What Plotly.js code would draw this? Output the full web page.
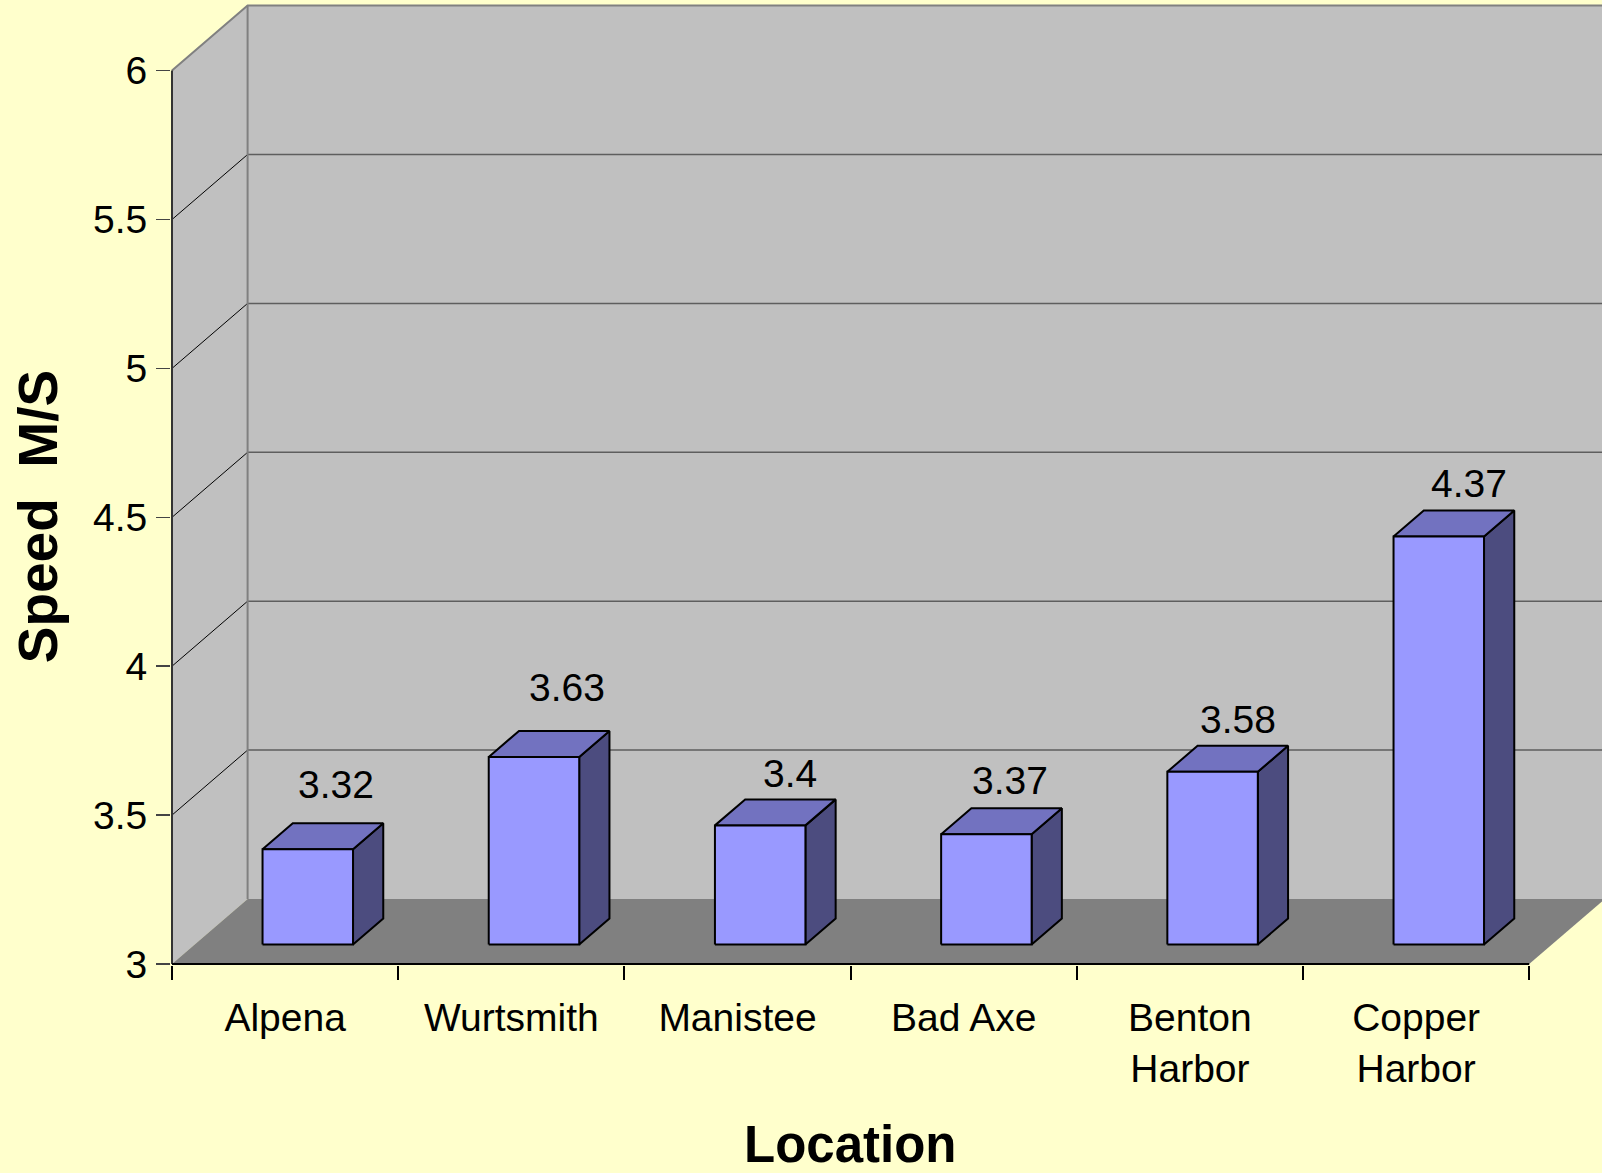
<!DOCTYPE html>
<html>
<head>
<meta charset="utf-8">
<script src="https://cdn.plot.ly/plotly-3.0.1.min.js"></script>
<style>
  html, body { margin: 0; padding: 0; background: #FFFFCC; }
  #chart { width: 1602px; height: 1173px; }
</style>
</head>
<body>
<div id="chart"></div>
<script>
// ---- data ----
const categories = ['Alpena', 'Wurtsmith', 'Manistee', 'Bad Axe', 'Benton<br>Harbor', 'Copper<br>Harbor'];
const speeds = [3.32, 3.63, 3.4, 3.37, 3.58, 4.37];
const yTickVals = [3, 3.5, 4, 4.5, 5, 5.5, 6];
const yTickText = ['3', '3.5', '4', '4.5', '5', '5.5', '6'];
const xTitle = 'Location';
const yTitle = 'Speed\u00a0 M/S';

// ---- geometry / style ----
const W = 1602, H = 1173;
const ML = 171, MB = 208;
const AXIS_X_PX = 172, AXIS_Y_PX = 964;
const PX_CAT = 226.2, PX_UNIT = 297.8;
const DEPTH_PX_X = 75.6, DEPTH_PX_Y = 65;
const dxD = DEPTH_PX_X / PX_CAT, dyD = DEPTH_PX_Y / PX_UNIT;
const BAR_X0 = 0.3, BAR_X1 = 0.7, D0 = 0.3, D1 = 0.7;
const LABEL_GAP = 26;
const labelNudgeY = [13, 17, 0, 2, 0, 1];
const labelNudgeX = [-2, 3, 0, -7, -5, 0];
const FONT = 'Liberation Sans, Arial, sans-serif';

const nCat = categories.length;
const yMin = yTickVals[0], yMax = yTickVals[yTickVals.length - 1];
const plotW = W - ML, plotH = H - MB;
const x0 = -(AXIS_X_PX - ML) / PX_CAT;
const xRange = [x0, x0 + plotW / PX_CAT];
const yb = yMin - (H - MB - AXIS_Y_PX) / PX_UNIT;
const yRange = [yb, yb + plotH / PX_UNIT];

function P(x, v, d) { return [x + d * dxD, v + d * dyD]; }
function polys(list) {
  const xs = [], ys = [];
  list.forEach((pts, k) => {
    if (k > 0) { xs.push(null); ys.push(null); }
    pts.concat([pts[0]]).forEach(p => { xs.push(p[0]); ys.push(p[1]); });
  });
  return { x: xs, y: ys };
}
function segs(list) {
  const xs = [], ys = [];
  list.forEach((pts, k) => {
    if (k > 0) { xs.push(null); ys.push(null); }
    pts.forEach(p => { xs.push(p[0]); ys.push(p[1]); });
  });
  return { x: xs, y: ys };
}
function fillTrace(g, color, lineColor, lineWidth) {
  return {
    type: 'scatter', mode: 'lines', x: g.x, y: g.y, fill: 'toself', fillcolor: color,
    line: { color: lineColor || color, width: lineWidth || 0 }, hoverinfo: 'skip', showlegend: false
  };
}
function lineTrace(g, color, width) {
  return {
    type: 'scatter', mode: 'lines', x: g.x, y: g.y,
    line: { color: color, width: width }, hoverinfo: 'skip', showlegend: false
  };
}

const traces = [];
// back wall
traces.push(fillTrace(polys([[P(0, yMin, 1), P(nCat, yMin, 1), P(nCat, yMax, 1), P(0, yMax, 1)]]), '#C0C0C0'));
// side wall
traces.push(fillTrace(polys([[P(0, yMin, 0), P(0, yMin, 1), P(0, yMax, 1), P(0, yMax, 0)]]), '#C0C0C0'));
// floor
traces.push(fillTrace(polys([[P(0, yMin, 0), P(nCat, yMin, 0), P(nCat, yMin, 1), P(0, yMin, 1)]]), '#808080'));
// gridlines
const inner = yTickVals.slice(1, -1);
traces.push(lineTrace(segs(inner.map(v => [P(0, v, 1), P(nCat, v, 1)])), '#5E5E5E', 1.5));
traces.push(lineTrace(segs(inner.map(v => [P(0, v, 0), P(0, v, 1)])), '#000000', 1));
// wall edges
traces.push(lineTrace(segs([
  [P(0, yMin, 1), P(0, yMax, 1)],
  [P(0, yMax, 0), P(0, yMax, 1), P(nCat, yMax, 1)]
]), '#808080', 2));
// axis lines
traces.push(lineTrace(segs([[P(0, yMin, 0), P(0, yMax, 0)]]), '#333333', 2));
traces.push(lineTrace(segs([[P(0, yMin, 0), P(nCat, yMin, 0)]]), '#000000', 2));

// bars
const sides = [], tops = [], fronts = [];
speeds.forEach((v, i) => {
  const a = i + BAR_X0, b = i + BAR_X1;
  sides.push([P(b, yMin, D0), P(b, yMin, D1), P(b, v, D1), P(b, v, D0)]);
  tops.push([P(a, v, D0), P(b, v, D0), P(b, v, D1), P(a, v, D1)]);
  fronts.push([P(a, yMin, D0), P(b, yMin, D0), P(b, v, D0), P(a, v, D0)]);
});
traces.push(fillTrace(polys(sides), '#4C4C7F', '#000000', 2));
traces.push(fillTrace(polys(tops), '#7272C0', '#000000', 2));
traces.push(fillTrace(polys(fronts), '#9999FF', '#000000', 2));

// annotations: value labels + titles
const annotations = speeds.map((v, i) => {
  const p = P(i + 0.5, v, D1);
  return {
    x: p[0], y: p[1], xref: 'x', yref: 'y', text: String(v), showarrow: false,
    xanchor: 'center', yanchor: 'middle',
    xshift: labelNudgeX[i], yshift: LABEL_GAP + labelNudgeY[i],
    font: { family: FONT, size: 39, color: '#000000' }
  };
});
annotations.push({
  x: nCat / 2, xref: 'x', y: (H - 1144 - MB) / plotH, yref: 'paper', text: xTitle, showarrow: false,
  xanchor: 'center', yanchor: 'middle',
  font: { family: FONT, size: 51, color: '#000000', weight: 'bold' }
});
annotations.push({
  x: (38 - ML) / plotW, xref: 'paper', y: (yMin + yMax) / 2, yref: 'y', text: yTitle, showarrow: false,
  textangle: -90, xanchor: 'center', yanchor: 'middle',
  font: { family: FONT, size: 55, color: '#000000', weight: 'bold' }
});

const layout = {
  width: W, height: H,
  paper_bgcolor: '#FFFFCC', plot_bgcolor: 'rgba(0,0,0,0)',
  margin: { l: ML, r: 0, t: 0, b: MB, pad: 0 },
  showlegend: false,
  xaxis: {
    range: xRange, showgrid: false, zeroline: false, showline: false,
    tickmode: 'array', tickvals: categories.map((c, i) => i + 0.5), ticktext: categories,
    ticks: '', ticklabelstandoff: 26,
    tickfont: { family: FONT, size: 39, color: '#000000' },
    minor: { tickmode: 'array', tickvals: categories.map((c, i) => i).concat([nCat]),
             ticks: 'outside', ticklen: 14, tickwidth: 2, tickcolor: '#000000', showgrid: false },
    fixedrange: true
  },
  yaxis: {
    range: yRange, showgrid: false, zeroline: false, showline: false,
    tickmode: 'array', tickvals: yTickVals, ticktext: yTickText,
    ticks: 'outside', ticklen: 14, tickwidth: 1.5, tickcolor: '#444444', ticklabelstandoff: 1,
    tickfont: { family: FONT, size: 39, color: '#000000' },
    fixedrange: true
  },
  annotations: annotations
};

Plotly.newPlot('chart', traces, layout, { staticPlot: true, displayModeBar: false });
</script>
</body>
</html>
